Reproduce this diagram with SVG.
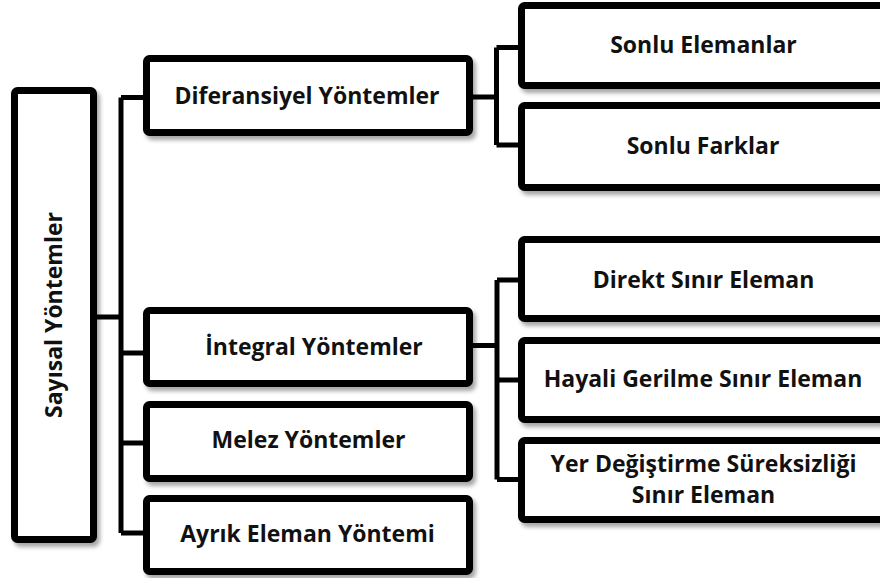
<svg xmlns="http://www.w3.org/2000/svg" width="880" height="578" viewBox="0 0 880 578">
<defs>
<filter id="sh" x="-10%" y="-10%" width="130%" height="140%">
<feDropShadow dx="3" dy="4" stdDeviation="2" flood-color="#000" flood-opacity="0.35"/>
</filter>
</defs>
<style>
.box{fill:#fff;stroke:#000;stroke-width:7;filter:url(#sh)}
.lbl{font-family:"Open Sans","Liberation Sans",sans-serif;font-weight:700;font-size:23px;fill:#111;text-anchor:middle}
.con{fill:none;stroke:#000;stroke-width:5}
</style>
<rect width="880" height="578" fill="#fff"/>
<g id="connectors">
<path class="con" d="M97 317H121M121 97.5V533M121 97.5H143M121 353H143M121 443H143M121 533H143"/>
<path class="con" d="M473 97H496.5M496.5 47.5V145M496.5 47.5H518M496.5 145H518"/>
<path class="con" d="M473 345.5H497M497 280V479.5M497 280H518M497 380H518M497 479.5H518"/>
</g>
<g id="root"><rect class="box" x="14.5" y="90.5" width="79" height="449" rx="3"/>
<text class="lbl" transform="translate(62,315) rotate(-90)">Sayısal Yöntemler</text></g>
<g id="diferansiyel"><rect class="box" x="146.5" y="58.5" width="323" height="74" rx="3"/>
<text class="lbl" x="307" y="104">Diferansiyel Yöntemler</text></g>
<g id="integral"><rect class="box" x="146.5" y="310.5" width="323" height="73" rx="3"/>
<text class="lbl" x="314" y="355">İntegral Yöntemler</text></g>
<g id="melez"><rect class="box" x="146.5" y="404.5" width="323" height="74" rx="3"/>
<text class="lbl" x="308.5" y="448">Melez Yöntemler</text></g>
<g id="ayrik"><rect class="box" x="146.5" y="498.5" width="323" height="73" rx="3"/>
<text class="lbl" x="307.5" y="542">Ayrık Eleman Yöntemi</text></g>
<g id="sonlu-elemanlar"><rect class="box" x="521.5" y="5.5" width="370" height="80" rx="3"/>
<text class="lbl" x="703.5" y="53">Sonlu Elemanlar</text></g>
<g id="sonlu-farklar"><rect class="box" x="521.5" y="105.5" width="370" height="82" rx="3"/>
<text class="lbl" x="703" y="154">Sonlu Farklar</text></g>
<g id="direkt"><rect class="box" x="521.5" y="239.5" width="370" height="79" rx="3"/>
<text class="lbl" x="703.5" y="288">Direkt Sınır Eleman</text></g>
<g id="hayali"><rect class="box" x="521.5" y="340.5" width="370" height="79" rx="3"/>
<text class="lbl" x="703" y="387">Hayali Gerilme Sınır Eleman</text></g>
<g id="yer"><rect class="box" x="521.5" y="440.5" width="370" height="79" rx="3"/>
<text class="lbl" x="703.5" y="472">Yer Değiştirme Süreksizliği</text>
<text class="lbl" x="703.5" y="503">Sınır Eleman</text></g>
</svg>
